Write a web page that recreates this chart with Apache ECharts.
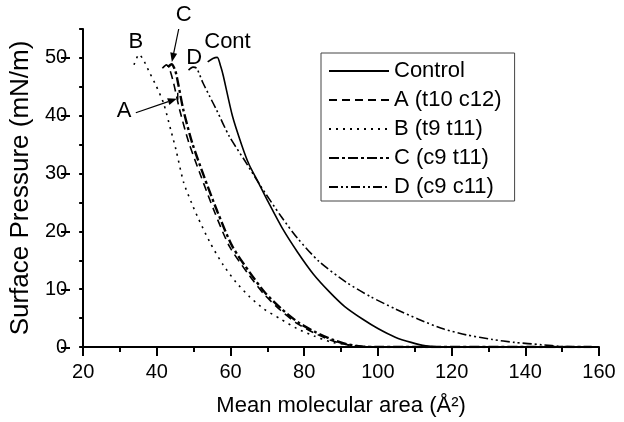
<!DOCTYPE html>
<html><head><meta charset="utf-8">
<script src="https://cdn.jsdelivr.net/npm/echarts@6/dist/echarts.min.js"></script>
<style>html,body{margin:0;padding:0;background:#fff}#c{width:624px;height:422px}</style>
</head><body><div id="c"></div>
<script>
// ---- data (area Å², surface pressure mN/m) ----
const seriesNames = ['Control', 'A (t10 c12)', 'B (t9 t11)', 'C (c9 t11)', 'D (c9 c11)'];
const control = [[53.8,49.3],[55.2,49.9],[56.4,50.1],[57.3,48.6],[58,47],[60.5,40],[63,35],[65,31.6],[67.6,28.4],[70.3,25],[74,20.6],[78.2,16.4],[82.5,12.6],[86.9,9.5],[91,7],[95.9,4.8],[100,3.2],[104.7,1.7],[109,0.8],[113,0.2],[117,0],[158,0]];
const seriesA = [[41.5,48.2],[42.6,48.8],[43.6,47.8],[44.6,45.5],[46.2,41],[48.7,35.3],[52,29.5],[55.7,23.3],[59.7,17.4],[64.5,12.9],[69,9.2],[73.5,6.4],[78,4.1],[82.5,2.5],[87,1.2],[91,0.5],[95,0.1],[100,0],[158,0]];
const seriesB = [[33.8,48.8],[35.2,50.6],[36.5,49.5],[38,47.5],[39.8,45.2],[41.8,42.2],[43.8,37.5],[45.2,34.1],[47.3,28.4],[49.5,24.8],[51,22.6],[54.4,18.1],[58,14.2],[61.5,11.2],[65,8.8],[69,6.6],[73.7,4.8],[78,3.2],[82.7,1.9],[87,0.9],[91.4,0.4],[95,0],[158,0]];
const seriesC = [[43,48.4],[44,48.9],[45,47.8],[45.8,45.5],[47.2,41],[49.6,35.3],[52.8,29.5],[56.5,23.3],[60.5,17.4],[65.2,12.9],[69.5,9.3],[74,6.5],[78.5,4.2],[83,2.6],[87.5,1.3],[91.5,0.5],[95.5,0.1],[100,0],[158,0]];
const seriesD = [[48.6,47.9],[49.8,48.4],[50.8,48.2],[52.5,45.7],[54.3,43.4],[56.2,41],[59.7,36.4],[64.2,31.9],[67.6,28.4],[73.7,22.6],[78.2,18.8],[84,14.8],[91.4,11.2],[98,8.7],[104.7,6.6],[111,4.8],[117.9,3.1],[124,2.1],[131.1,1.3],[137,0.8],[144.4,0.4],[150,0.1],[156,0],[158,0]];
const xRange = [20, 160, 20];
const yRange = [0, 55, 10];
// annotations in data coordinates
const annoLabels = [['C',47.26,57.41],['B',34.29,52.76],['D',50.17,50.0],['Cont',59.17,52.76],['A',31.12,40.86]];
const annoArrows = [[[45.94,55.0],[44.08,49.31]],[[34.29,40.52],[45.41,42.93]]];
const annoBars = [[[45.67,43.97],[45.67,42.76]]];

const FONT = '"Liberation Sans", Arial, sans-serif';
const chart = echarts.init(document.getElementById('c'), null, {renderer:'canvas'});
function mk(name, data, type, width) {
  return {name, type:'line', data, showSymbol:false, symbol:'none', smooth:0.25, xAxisIndex:0, yAxisIndex:0,
    lineStyle:{color:'#000', width, type}, itemStyle:{color:'#000'}, animation:false};
}
const option = {
  backgroundColor:'#fff',
  animation:false,
  textStyle:{fontFamily:FONT, color:'#000'},
  grid:[{left:70, right:25, top:29, bottom:74},{left:70, right:25, top:58, bottom:74}],
  xAxis:[{
    type:'value', gridIndex:0, min:xRange[0], max:xRange[1], interval:xRange[2],
    name:'Mean molecular area (Å²)', nameLocation:'middle', nameGap:48,
    nameTextStyle:{fontSize:22, color:'#000', fontFamily:FONT},
    axisLine:{onZero:false, lineStyle:{color:'#000', width:2}},
    axisTick:{length:9, lineStyle:{color:'#000', width:2}},
    minorTick:{show:true, splitNumber:2, length:5, lineStyle:{color:'#000', width:2}},
    axisLabel:{fontSize:20, color:'#000', margin:15, fontFamily:FONT},
    splitLine:{show:false}
  },{type:'value', gridIndex:1, min:xRange[0], max:xRange[1], show:false}],
  yAxis:[{
    type:'value', gridIndex:0, min:yRange[0], max:yRange[1], interval:5,
    name:'Surface Pressure (mN/m)', nameLocation:'middle', nameGap:42,
    nameTextStyle:{fontSize:26, color:'#000', fontFamily:FONT},
    axisLine:{show:true, onZero:false, lineStyle:{color:'#000', width:2}},
    axisTick:{length:4, lineStyle:{color:'#000', width:2}},
    axisLabel:{fontSize:20, color:'#000', margin:16, fontFamily:FONT,
      formatter:v => (v % yRange[2] === 0 ? String(v) : '')},
    splitLine:{show:false}
  },{
    type:'value', gridIndex:1, min:0, max:50, interval:yRange[2],
    axisLine:{show:false}, axisLabel:{show:false}, splitLine:{show:false},
    axisTick:{show:true, length:9, lineStyle:{color:'#000', width:2}}
  }],
  legend:{
    orient:'vertical', left:321, top:53, itemWidth:60, itemHeight:14, itemGap:7,
    padding:[7,13,3,7], borderColor:'#444', borderWidth:1, backgroundColor:'#fff',
    itemStyle:{opacity:0},
    textStyle:{fontSize:22, lineHeight:22, color:'#000', fontFamily:FONT},
    data:seriesNames
  },
  series:[
    mk(seriesNames[0], control, 'solid', 1.6),
    mk(seriesNames[1], seriesA, [8,5], 1.6),
    mk(seriesNames[2], seriesB, [2,5], 1.6),
    mk(seriesNames[3], seriesC, [10,3,3,3], 2.4),
    mk(seriesNames[4], seriesD, [9,3,2,3,2,3], 1.6)
  ]
};
chart.setOption(option);

function px(p){ return chart.convertToPixel({xAxisIndex:0, yAxisIndex:0}, p); }
const g = [];
annoLabels.forEach(([t,x,y]) => {
  const p = px([x,y]);
  g.push({type:'text', x:p[0], y:p[1], style:{text:t, fontSize:22, fontFamily:FONT, fill:'#000', align:'center', verticalAlign:'middle'}, silent:true});
});
annoArrows.forEach(([a,b]) => {
  const p1 = px(a), p2 = px(b);
  const dx = p2[0]-p1[0], dy = p2[1]-p1[1], L = Math.hypot(dx,dy), ux = dx/L, uy = dy/L;
  const hl = 9, hw = 3.5;
  const bx = p2[0]-ux*hl, by = p2[1]-uy*hl;
  g.push({type:'line', shape:{x1:p1[0], y1:p1[1], x2:bx, y2:by}, style:{stroke:'#000', lineWidth:1.2}, silent:true});
  g.push({type:'polygon', shape:{points:[[p2[0],p2[1]],[bx-uy*hw,by+ux*hw],[bx+uy*hw,by-ux*hw]]}, style:{fill:'#000'}, silent:true});
});
annoBars.forEach(([a,b]) => {
  const p1 = px(a), p2 = px(b);
  g.push({type:'line', shape:{x1:p1[0], y1:p1[1], x2:p2[0], y2:p2[1]}, style:{stroke:'#000', lineWidth:1.5}, silent:true});
});
chart.setOption({graphic:g});
</script>
</body></html>
